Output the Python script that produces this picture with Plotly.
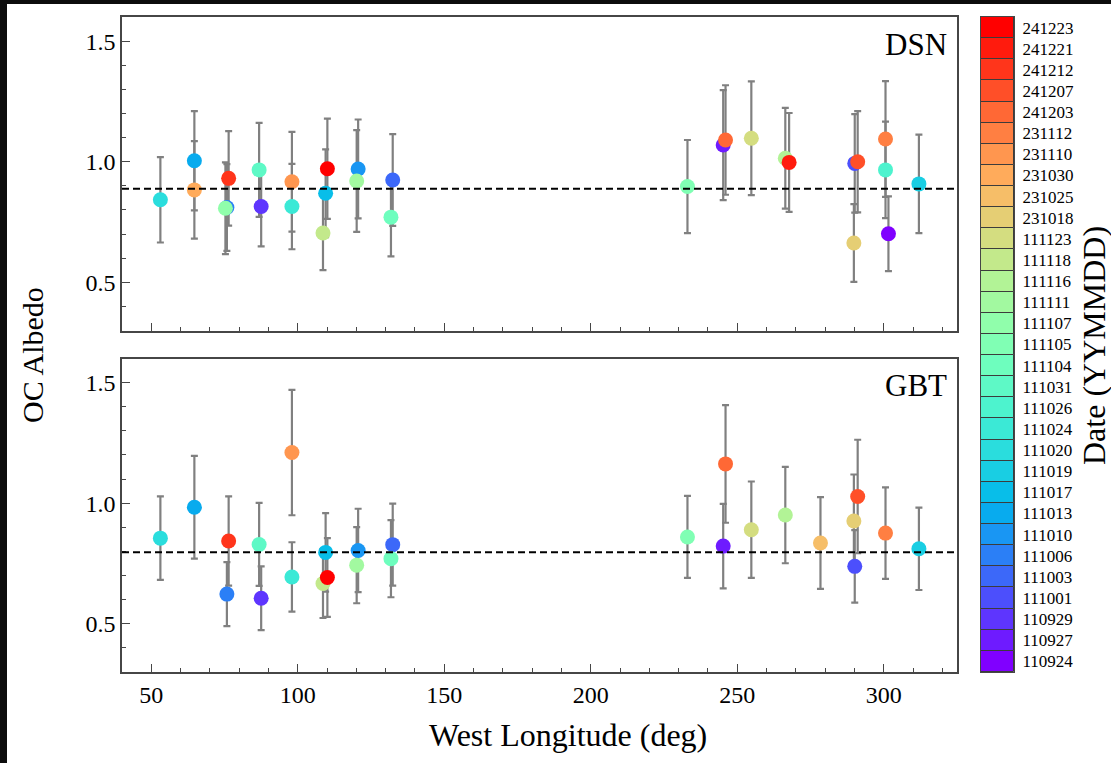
import math
import plotly.graph_objects as go

# ---------------- data ----------------
dates = ['110924', '110927', '110929', '111001', '111003', '111006', '111010', '111013',
         '111017', '111019', '111020', '111024', '111026', '111031', '111104', '111105',
         '111107', '111111', '111116', '111118', '111123', '231018', '231025', '231030',
         '231110', '231112', '241203', '241207', '241212', '241221', '241223']
longitude = [301.6, 245.2, 87.5, 290.1, 132.4, 75.8, 120.6, 64.7,
             109.5, 312.0, 53.1, 98.0, 300.6, 86.8, 131.8, 233.0,
             75.3, 120.1, 266.4, 108.6, 254.8, 289.8, 278.4, 64.7,
             98.0, 300.6, 246.0, 291.1, 76.4, 267.7, 110.1]
dsn_albedo = [0.701, 1.069, 0.814, 0.993, 0.924, 0.810, 0.970, 1.004,
              0.869, 0.908, 0.842, 0.814, 0.966, 0.966, 0.770, 0.897,
              0.807, 0.920, 1.014, 0.704, 1.097, 0.663, None, 0.883,
              0.917, 1.094, 1.090, 1.000, 0.931, 0.997, 0.971]
dsn_err = [0.155, 0.228, 0.165, 0.204, 0.190, 0.180, 0.205, 0.206,
           0.182, 0.204, 0.177, 0.177, 0.200, 0.195, 0.163, 0.193,
           0.190, 0.211, 0.209, 0.154, 0.236, 0.161, None, 0.202,
           0.207, 0.240, 0.227, 0.210, 0.196, 0.205, 0.208]
gbt_albedo = [None, 0.822, 0.606, 0.738, 0.828, 0.623, 0.804, 0.983,
              0.796, 0.811, 0.855, 0.694, None, 0.829, 0.770, 0.860,
              None, 0.743, 0.951, 0.667, 0.890, 0.926, 0.835, None,
              1.210, 0.876, 1.163, 1.028, 0.843, None, 0.692]
gbt_err = [None, 0.175, 0.132, 0.150, 0.170, 0.133, 0.173, 0.213,
           0.163, 0.171, 0.173, 0.144, None, 0.172, 0.160, 0.170,
           None, 0.158, 0.200, 0.143, 0.200, 0.193, 0.190, None,
           0.260, 0.190, 0.244, 0.235, 0.185, None, 0.163]
dsn_mean = 0.888
gbt_mean = 0.797
panel_names = ['DSN', 'GBT']

# ---------------- colours (matplotlib "rainbow", discrete) ----------------
def rainbow(t):
    r = min(1.0, abs(2 * t - 0.5))
    g = math.sin(math.pi * t)
    b = math.cos(math.pi * t / 2)
    return 'rgb(%d,%d,%d)' % (round(r * 255), round(g * 255), round(b * 255))

n = len(dates)
date_colors = [rainbow(i / (n - 1)) for i in range(n)]

FONT = 'Liberation Serif'
W, H = 1111, 763
ML, MR, MT, MB = 122, 0, 17, 91
PW, PH = W - ML - MR, H - MT - MB

def px_x(p):
    return (p - ML) / PW

def px_y(p):
    return 1 - (p - MT) / PH

fig = go.Figure()

panels = [(dsn_albedo, dsn_err, 'x', 'y'), (gbt_albedo, gbt_err, 'x2', 'y2')]
for (vals, errs, xa, ya) in panels:
    idx = [i for i in range(n) if vals[i] is not None]
    fig.add_trace(go.Scatter(
        x=[longitude[i] for i in idx],
        y=[vals[i] for i in idx],
        error_y=dict(type='data', array=[errs[i] for i in idx], visible=True,
                     color='rgb(128,128,128)', thickness=2.2, width=3.5),
        mode='markers',
        marker=dict(size=15, color=[date_colors[i] for i in idx], line=dict(width=0)),
        text=[dates[i] for i in idx],
        xaxis=xa, yaxis=ya, showlegend=False,
    ))

# discrete colour bar drawn as stacked horizontal bars on its own axis
fig.add_trace(go.Bar(
    x=[1] * n, y=dates, orientation='h', width=1,
    marker=dict(color=date_colors, line=dict(color='rgb(60,60,60)', width=1)),
    xaxis='x3', yaxis='y3', showlegend=False, hoverinfo='y',
))

main_dom = [0, px_x(957)]
top_dom = [px_y(330.5), 1]
bot_dom = [0, px_y(358.5)]

axis_common = dict(showline=True, linecolor='rgb(70,70,70)', linewidth=1.5, mirror=True,
                   showgrid=False, zeroline=False, ticks='inside',
                   tickcolor='rgb(70,70,70)', tickwidth=1.3,
                   tickfont=dict(family=FONT, size=24, color='black'))

xcommon = dict(axis_common, range=[40, 325], tick0=0, dtick=50, ticklen=8, domain=main_dom,
               minor=dict(dtick=10, ticks='inside', ticklen=4, tickcolor='rgb(70,70,70)', tickwidth=1.2))
ycommon = dict(axis_common, range=[0.3, 1.6], tick0=0, dtick=0.5, ticklen=8, tickformat='.1f',
               minor=dict(dtick=0.1, ticks='inside', ticklen=4, tickcolor='rgb(70,70,70)', tickwidth=1.2))

fig.update_layout(
    width=W, height=H,
    margin=dict(l=ML, r=MR, t=MT, b=MB, pad=0),
    paper_bgcolor='white', plot_bgcolor='white',
    bargap=0,
    font=dict(family=FONT, color='black'),
    xaxis=dict(xcommon, anchor='y', showticklabels=False),
    yaxis=dict(ycommon, anchor='x', domain=top_dom),
    xaxis2=dict(xcommon, anchor='y2'),
    yaxis2=dict(ycommon, anchor='x2', domain=bot_dom),
    xaxis3=dict(domain=[px_x(981), px_x(1014)], anchor='y3', range=[0, 1],
                showticklabels=False, ticks='', showgrid=False, zeroline=False,
                showline=True, linecolor='rgb(70,70,70)', linewidth=1.2, mirror=True),
    yaxis3=dict(domain=[0, 1], anchor='x3', side='right', type='category',
                categoryorder='array', categoryarray=dates, range=[-0.5, n - 0.5],
                ticks='', showgrid=False, zeroline=False, ticklabelstandoff=4,
                showline=True, linecolor='rgb(70,70,70)', linewidth=1.2, mirror=True,
                tickfont=dict(family=FONT, size=17, color='black')),
)

# reference (mean) lines
for ya, xd, m in [('y', 'x domain', dsn_mean), ('y2', 'x2 domain', gbt_mean)]:
    fig.add_shape(type='line', xref=xd, x0=0, x1=1, yref=ya, y0=m, y1=m,
                  line=dict(color='black', width=2, dash='7px,4px'))

# panel labels
for name, xd, yd in [(panel_names[0], 'x domain', 'y domain'), (panel_names[1], 'x2 domain', 'y2 domain')]:
    fig.add_annotation(text=name, xref=xd, yref=yd, x=0.99, y=0.975,
                       xanchor='right', yanchor='top', showarrow=False,
                       font=dict(family=FONT, size=31, color='black'))

# axis titles
fig.add_annotation(text='OC Albedo', xref='paper', yref='paper', x=px_x(33), y=px_y(355),
                   xanchor='center', yanchor='middle',
                   textangle=-90, showarrow=False, font=dict(family=FONT, size=30, color='black'))
fig.add_annotation(text='West Longitude (deg)', xref='paper', yref='paper', x=px_x(568), y=px_y(735),
                   xanchor='center', yanchor='middle',
                   showarrow=False, font=dict(family=FONT, size=32, color='black'))
fig.add_annotation(text='Date (YYMMDD)', xref='paper', yref='paper', x=px_x(1094), y=px_y(346),
                   xanchor='center', yanchor='middle',
                   textangle=-90, showarrow=False, font=dict(family=FONT, size=32, color='black'))

# black border strips of the screenshot
fig.add_shape(type='rect', xref='paper', yref='paper', x0=px_x(-20), x1=px_x(7), y0=px_y(800), y1=px_y(-20),
              fillcolor='rgb(12,12,12)', line=dict(width=0), layer='below')
fig.add_shape(type='rect', xref='paper', yref='paper', x0=px_x(-20), x1=px_x(1130), y0=px_y(4), y1=px_y(-20),
              fillcolor='rgb(12,12,12)', line=dict(width=0), layer='below')

fig.write_html('out.html', config={'displayModeBar': False},
               post_script="document.body.style.margin='0px';document.body.style.overflow='hidden';")
